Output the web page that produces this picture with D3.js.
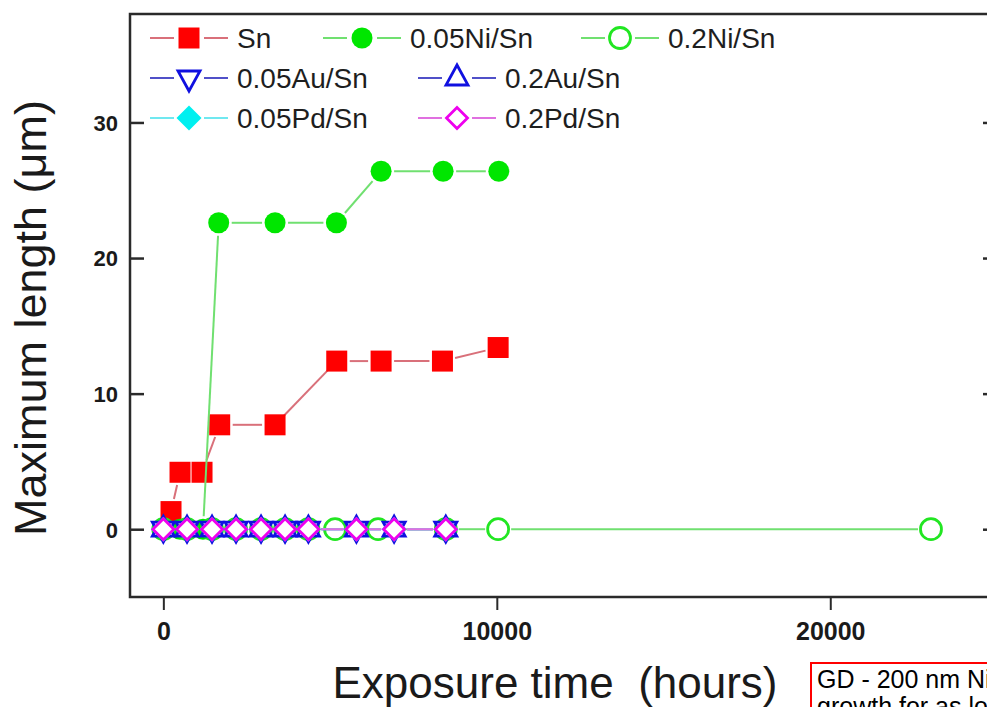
<!DOCTYPE html>
<html>
<head>
<meta charset="utf-8">
<script src="https://cdn.jsdelivr.net/npm/d3@7/dist/d3.min.js"></script>
<style>
  html, body { margin: 0; padding: 0; background: #fff; overflow: hidden; }
  svg { display: block; }
</style>
</head>
<body>
<svg id="chart" width="987" height="707"></svg>
<script>
// ---- Data ----
const seriesNames = ["Sn", "0.05Ni/Sn", "0.2Ni/Sn", "0.05Au/Sn", "0.2Au/Sn", "0.05Pd/Sn", "0.2Pd/Sn"];

const snTime = [230, 500, 1160, 1690, 3350, 5200, 6530, 8370, 10040];
const snValue = [1.3, 4.2, 4.2, 7.7, 7.7, 12.4, 12.4, 12.4, 13.4];

const ni05Time = [0, 500, 1190, 1660, 3350, 5190, 6530, 8390, 10060];
const ni05Value = [0, 0, 0, 22.6, 22.6, 22.6, 26.4, 26.4, 26.4];

const ni2Time = [0, 710, 1460, 2180, 2930, 3650, 4350, 5150, 6440, 8470, 10040, 23020];
const ni2Value = [0, 0, 0, 0, 0, 0, 0, 0, 0, 0, 0, 0];

const au05Time = [0, 710, 1460, 2180, 2930, 3650, 4350, 5790, 6920, 8470];
const au05Value = [0, 0, 0, 0, 0, 0, 0, 0, 0, 0];

const au2Time = [0, 710, 1460, 2180, 2930, 3650, 4350, 5790, 6920, 8470];
const au2Value = [0, 0, 0, 0, 0, 0, 0, 0, 0, 0];

const pd05Time = [0, 710, 1460, 2180, 2930, 3650, 4350, 5790, 6920, 8470];
const pd05Value = [0, 0, 0, 0, 0, 0, 0, 0, 0, 0];

const pd2Time = [0, 710, 1460, 2180, 2930, 3650, 4350, 5790, 6920, 8470];
const pd2Value = [0, 0, 0, 0, 0, 0, 0, 0, 0, 0];

const xTicks = [0, 10000, 20000];
const yTicks = [0, 10, 20, 30];

const xTitle = "Exposure time  (hours)";
const yTitle = "Maximum length (\u03BCm)";
const noteLines = ["GD - 200 nm Ni/Sn", "growth for as long as"];

// ---- Styles ----
const styles = [
  { shape: "square",  fill: "#ff0000", stroke: "none",    line: "#d9707a" },
  { shape: "circle",  fill: "#00e600", stroke: "none",    line: "#70e070" },
  { shape: "circle",  fill: "#ffffff", stroke: "#22e622", line: "#70e070", open: true },
  { shape: "tridown", fill: "#ffffff", stroke: "#1010e0", line: "#5050c8", open: true },
  { shape: "triup",   fill: "#ffffff", stroke: "#1010e0", line: "#5050c8", open: true },
  { shape: "diamondF", fill: "#00f0f0", stroke: "none",   line: "#70e8f0" },
  { shape: "diamond", fill: "#ffffff", stroke: "#ee00ee", line: "#e070e0", open: true }
];

const seriesData = [
  [snTime, snValue], [ni05Time, ni05Value], [ni2Time, ni2Value],
  [au05Time, au05Value], [au2Time, au2Value], [pd05Time, pd05Value], [pd2Time, pd2Value]
];

// ---- Layout ----
const svg = d3.select("#chart");
const L = 130, R = 997, T = 14, B = 597;

const x = d3.scaleLinear().domain([-1000, 25000]).range([L, R]);
const y = d3.scaleLinear().domain([-5, 38]).range([B, T]);

function markerPath(shape) {
  switch (shape) {
    case "square": return d3.symbol(d3.symbolSquare, 21 * 21)();
    case "circle": return d3.symbol(d3.symbolCircle, Math.PI * 10.5 * 10.5)();
    case "tridown": return "M-11,-7L11,-7L0,13Z";
    case "triup": return "M-11,7L11,7L0,-13Z";
    case "diamond": return "M0,-10.5L10.5,0L0,10.5L-10.5,0Z";
    case "diamondF": return "M0,-12.5L12.5,0L0,12.5L-12.5,0Z";
  }
}

// ---- Frame ----
svg.append("rect")
  .attr("x", L).attr("y", T).attr("width", R - L).attr("height", B - T)
  .attr("fill", "none").attr("stroke", "#2a2a2a").attr("stroke-width", 2.5);

// Axes
const xAxis = d3.axisBottom(x).tickValues(xTicks).tickSize(13).tickSizeOuter(0).tickFormat(d3.format("d"));
const gx = svg.append("g").attr("transform", `translate(0,${B})`).call(xAxis);
gx.select(".domain").remove();
gx.selectAll(".tick line").attr("stroke", "#2a2a2a").attr("stroke-width", 2);
gx.selectAll(".tick text")
  .attr("y", 25).attr("dy", "0.71em")
  .attr("font-family", "Liberation Sans, Arial, sans-serif")
  .attr("font-weight", "bold").attr("font-size", 25).attr("fill", "#1a1a1a");

const yAxis = d3.axisLeft(y).tickValues(yTicks).tickSize(-14).tickSizeOuter(0).tickFormat(d3.format("d"));
const gy = svg.append("g").attr("transform", `translate(${L},0)`).call(yAxis);
gy.select(".domain").remove();
gy.selectAll(".tick line").attr("stroke", "#2a2a2a").attr("stroke-width", 2.5);
gy.selectAll(".tick text")
  .attr("x", -12).attr("dy", "0.36em")
  .attr("font-family", "Liberation Sans, Arial, sans-serif")
  .attr("font-weight", "bold").attr("font-size", 22).attr("fill", "#1a1a1a");

const yAxisR = d3.axisRight(y).tickValues(yTicks).tickSize(-14).tickSizeOuter(0).tickFormat("");
const gyr = svg.append("g").attr("transform", `translate(${R},0)`).call(yAxisR);
gyr.select(".domain").remove();
gyr.selectAll(".tick line").attr("stroke", "#2a2a2a").attr("stroke-width", 2.5);

// ---- Series ----
const GAP = 13;
function drawGappedLine(g, pts, color) {
  for (let i = 0; i < pts.length - 1; i++) {
    const [x1, y1] = pts[i], [x2, y2] = pts[i + 1];
    const dx = x2 - x1, dy = y2 - y1, len = Math.hypot(dx, dy);
    if (len <= 2 * GAP) continue;
    const ux = dx / len, uy = dy / len;
    g.append("line")
      .attr("x1", x1 + ux * GAP).attr("y1", y1 + uy * GAP)
      .attr("x2", x2 - ux * GAP).attr("y2", y2 - uy * GAP)
      .attr("stroke", color).attr("stroke-width", 2);
  }
}

const plot = svg.append("g");
seriesData.forEach(([ts, vs], i) => {
  const st = styles[i];
  const g = plot.append("g").attr("class", "series");
  const pts = ts.map((t, k) => [x(t), y(vs[k])]);
  drawGappedLine(g, pts, st.line);
  g.selectAll("path.m").data(pts).enter().append("path")
    .attr("class", "m")
    .attr("d", markerPath(st.shape))
    .attr("transform", d => `translate(${d[0]},${d[1]})`)
    .attr("fill", st.fill)
    .attr("stroke", st.stroke)
    .attr("stroke-width", st.open ? 2.8 : 0);
});

// ---- Legend ----
const legendPos = [
  { cx: 189, cy: 38, tx: 237 },
  { cx: 362, cy: 38, tx: 410 },
  { cx: 620, cy: 38, tx: 668 },
  { cx: 189, cy: 78, tx: 237 },
  { cx: 457, cy: 78, tx: 505 },
  { cx: 189, cy: 118, tx: 237 },
  { cx: 457, cy: 118, tx: 505 }
];
const leg = svg.append("g");
seriesNames.forEach((name, i) => {
  const p = legendPos[i], st = styles[i];
  leg.append("line").attr("x1", p.cx - 39).attr("x2", p.cx - 15).attr("y1", p.cy).attr("y2", p.cy)
    .attr("stroke", st.line).attr("stroke-width", 2);
  leg.append("line").attr("x1", p.cx + 15).attr("x2", p.cx + 39).attr("y1", p.cy).attr("y2", p.cy)
    .attr("stroke", st.line).attr("stroke-width", 2);
  leg.append("path").attr("d", markerPath(st.shape))
    .attr("transform", `translate(${p.cx},${p.cy})`)
    .attr("fill", st.fill).attr("stroke", st.stroke).attr("stroke-width", st.open ? 2.8 : 0);
  leg.append("text").attr("x", p.tx).attr("y", p.cy + 10)
    .attr("font-family", "Liberation Sans, Arial, sans-serif")
    .attr("font-size", 28).attr("fill", "#1e1e1e").text(name);
});

// ---- Axis titles ----
svg.append("text")
  .attr("x", 555).attr("y", 698).attr("text-anchor", "middle")
  .attr("xml:space", "preserve").style("white-space", "pre")
  .attr("font-family", "Liberation Sans, Arial, sans-serif")
  .attr("font-size", 44).attr("fill", "#1a1a1a").text(xTitle);

svg.append("text")
  .attr("transform", "translate(46,318) rotate(-90)")
  .attr("text-anchor", "middle")
  .attr("font-family", "Liberation Sans, Arial, sans-serif")
  .attr("font-size", 45).attr("fill", "#1a1a1a").text(yTitle);

// ---- Note box (cropped at the page edge, as in the reference) ----
svg.append("rect").attr("x", 811).attr("y", 663).attr("width", 200).attr("height", 80)
  .attr("fill", "#fff").attr("stroke", "#ff0000").attr("stroke-width", 2);
noteLines.forEach((t, i) => {
  svg.append("text").attr("x", 817).attr("y", 688 + i * 27)
    .attr("font-family", "Liberation Sans, Arial, sans-serif")
    .attr("font-size", 25).attr("fill", "#000").text(t);
});
</script>
</body>
</html>
